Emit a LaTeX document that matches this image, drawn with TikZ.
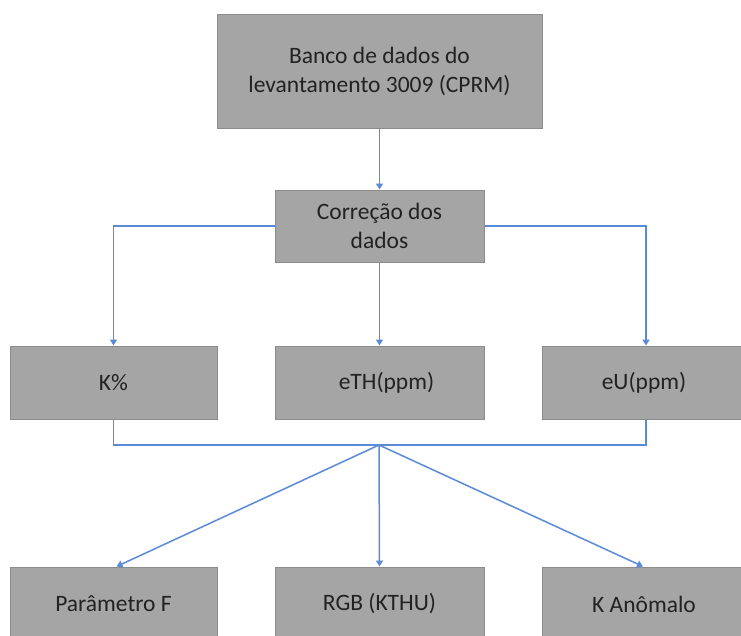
\documentclass[tikz,border=0pt]{standalone}
\usepackage{fontspec}
\setmainfont{Carlito}
\usetikzlibrary{arrows.meta,calc}
\definecolor{boxfill}{HTML}{A5A5A5}
\definecolor{boxline}{HTML}{8C8C8C}
\definecolor{conn}{HTML}{5B8AD8}
\definecolor{txt}{HTML}{222222}
\tikzset{
  box/.style={rectangle, draw=boxline, fill=boxfill, line width=1pt,
    inner sep=0pt, text=txt, align=center,
    font=\fontsize{23.5}{29}\selectfont},
  conline/.style={draw=conn, line width=1.5pt},
  arr/.style={conline, -{Triangle[length=6pt,width=7pt]}},
}
\begin{document}
\begin{tikzpicture}[x=1pt,y=-1pt]
\useasboundingbox (0,0) rectangle (741,635);
\fill[white] (0,0) rectangle (741,635);

\node[box, minimum width=325pt, minimum height=114pt] (top) at (379.5,71)
  {Banco de dados do\\levantamento 3009 (CPRM)};
\node[box, minimum width=209pt, minimum height=72pt] (cor) at (379.5,226)
  {Corre\c{c}\~ao dos\\dados};

\node[box, minimum width=207pt, minimum height=73pt] (k) at (113.5,382.5) {K\%};
\node[box, minimum width=209pt, minimum height=73pt] (eth) at (379.5,382.5) {\hspace*{14pt}eTH(ppm)};
\node[box, minimum width=204pt, minimum height=73pt] (eu) at (644,382.5) {\raisebox{3pt}{eU(ppm)}};

\node[box, minimum width=207pt, minimum height=74pt] (pf) at (113.5,604) {Par\^ametro F};
\node[box, minimum width=209pt, minimum height=74pt] (rgb) at (379.5,604) {\raisebox{-3pt}{RGB (KTHU)}};
\node[box, minimum width=204pt, minimum height=74pt] (ka) at (644,604) {K An\^omalo};

\coordinate (j) at (379,445);

\draw[arr] (top.south) -- (cor.north);
\draw[arr] (cor.west) -| (k.north);
\draw[arr] (cor.south) -- (eth.north);
\draw[arr] (cor.east) -| ([xshift=2pt]eu.north);

\draw[conline] (k.south) |- (j) -| ([xshift=2pt]eu.south);
\draw[arr] (j) -- ([xshift=3pt]pf.north);
\draw[arr] (j) -- (rgb.north);
\draw[arr] (j) -- ([xshift=-1pt]ka.north);
\end{tikzpicture}
\end{document}
